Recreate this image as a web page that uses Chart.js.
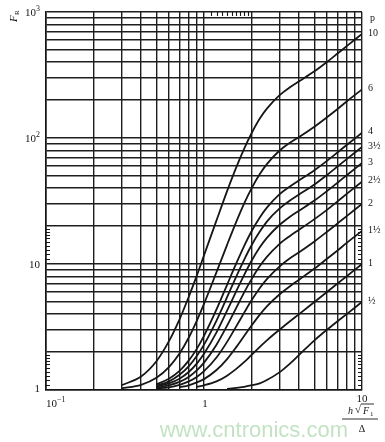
<!DOCTYPE html>
<html><head><meta charset="utf-8">
<script src="https://cdn.jsdelivr.net/npm/chart.js@4.4.0/dist/chart.umd.min.js"></script>
<style>html,body{margin:0;padding:0;background:#fff}canvas{display:block}</style>
</head><body>
<canvas id="c" width="385" height="442"></canvas>
<script>
// x values (h*sqrt(F1)/Delta) shared by all curves
const xs = [0.3,0.4,0.5,0.6,0.7,0.8,0.9,1,1.2,1.4,1.6,1.8,2,2.25,2.5,3,3.5,4,5,6,7,8,10];
// F_R read for each layer count p
const p10   = [1.09,1.28,1.69,2.44,3.64,5.47,8.08,11.7,22.2,37.9,58.5,82.9,109,142,171,218,253,282,338,401,468,536,670];
const p6    = [1.03,1.10,1.25,1.52,1.95,2.60,3.54,4.82,8.61,14.2,21.6,30.4,39.8,51.5,62.1,79.2,91.7,102,123,146,170,195,243];
const p4    = [null,null,1.11,1.23,1.42,1.71,2.12,2.69,4.36,6.84,10.1,14.0,18.2,23.3,28.0,35.7,41.3,46.1,55.5,65.8,76.8,88.0,110];
const p3h   = [null,null,1.08,1.17,1.32,1.54,1.86,2.29,3.56,5.46,7.95,10.9,14.1,18.0,21.7,27.5,31.9,35.6,42.8,50.9,59.4,68.0,85.0];
const p3    = [null,null,1.06,1.13,1.23,1.39,1.62,1.94,2.87,4.26,6.08,8.23,10.6,13.5,16.1,20.4,23.7,26.5,31.9,37.9,44.2,50.6,63.3];
const p2h   = [null,null,1.04,1.09,1.16,1.27,1.43,1.65,2.29,3.24,4.49,5.98,7.58,9.58,11.4,14.4,16.7,18.7,22.7,26.9,31.4,36.0,45.0];
const p2    = [null,null,1.03,1.05,1.10,1.17,1.27,1.41,1.81,2.41,3.20,4.13,5.15,6.42,7.59,9.54,11.1,12.4,15.1,18.0,21.0,24.0,30.0];
const p1h   = [null,null,null,null,1.05,1.09,1.15,1.22,1.44,1.76,2.19,2.70,3.25,3.95,4.61,5.73,6.66,7.51,9.20,11.0,12.8,14.7,18.3];
const p1    = [null,null,null,null,null,null,1.06,1.09,1.17,1.30,1.47,1.67,1.90,2.19,2.48,3.01,3.51,4.00,5.00,6.00,7.00,8.00,10.0];
const pHalf = [null,null,null,null,null,null,null,null,null,1.02,1.04,1.06,1.09,1.13,1.20,1.38,1.62,1.90,2.48,3.01,3.51,4.00,5.00];

const seriesValues = [p10,p6,p4,p3h,p3,p2h,p2,p1h,p1,pHalf];
const seriesLabels = ['10','6','4','3½','3','2½','2','1½','1','½'];

const xTickValues = [0.1,0.2,0.3,0.4,0.5,0.6,0.7,0.8,0.9,1,2,3,4,5,6,7,8,9,10];
const yTickValues = [1,2,3,4,5,6,7,8,9,10,20,30,40,50,60,70,80,90,100,200,300,400,500,600,700,800,900,1000];
// small edge subdivision marks
const yFineTicks = [1.1,1.2,1.3,1.4,1.5,1.6,1.7,1.8,1.9,11,12,13,14,15,16,17,18,19];
const xFineTicksTop = [1.1,1.2,1.3,1.4,1.5,1.6,1.7,1.8,1.9];

const serif = "'Liberation Serif','DejaVu Serif',serif";
const ink = '#161616';

function drawPow(ctx, base, exp, x, yMid, size, align){
  ctx.font = size + 'px ' + serif;
  const wb = ctx.measureText(base).width;
  ctx.font = (size*0.72) + 'px ' + serif;
  const we = ctx.measureText(exp).width;
  const total = wb + we;
  let left = align === 'right' ? x - total : (align === 'center' ? x - total/2 : x);
  ctx.textBaseline = 'middle';
  ctx.textAlign = 'left';
  ctx.font = size + 'px ' + serif;
  ctx.fillText(base, left, yMid);
  ctx.font = (size*0.72) + 'px ' + serif;
  ctx.fillText(exp, left + wb, yMid - size*0.38);
}

const textPlugin = {
  id: 'texts',
  afterDraw(chart){
    const ctx = chart.ctx;
    const xs_ = chart.scales.x, ys_ = chart.scales.y;
    const a = chart.chartArea;
    ctx.save();
    // fine edge marks
    ctx.strokeStyle = ink; ctx.lineWidth = 1.1;
    ctx.beginPath();
    yFineTicks.forEach(v => {
      const py = Math.round(ys_.getPixelForValue(v)) + 0.5;
      ctx.moveTo(a.left, py); ctx.lineTo(a.left + 4, py);
      ctx.moveTo(a.right, py); ctx.lineTo(a.right - 4, py);
    });
    xFineTicksTop.forEach(v => {
      const px = Math.round(xs_.getPixelForValue(v)) + 0.5;
      ctx.moveTo(px, a.top); ctx.lineTo(px, a.top + 4);
    });
    ctx.stroke();

    ctx.fillStyle = ink;
    // y tick labels
    drawPow(ctx, '10', '3', 40, ys_.getPixelForValue(1000)+1, 11, 'right');
    drawPow(ctx, '10', '2', 40, ys_.getPixelForValue(100)+1, 11, 'right');
    ctx.font = '11px ' + serif; ctx.textAlign = 'right'; ctx.textBaseline = 'middle';
    ctx.fillText('10', 40, ys_.getPixelForValue(10)+1);
    ctx.fillText('1', 40, ys_.getPixelForValue(1)-1);
    // x tick labels
    drawPow(ctx, '10', '−1', xs_.getPixelForValue(0.1), 404, 11, 'left');
    ctx.font = '11px ' + serif; ctx.textAlign = 'center'; ctx.textBaseline = 'middle';
    ctx.fillText('1', xs_.getPixelForValue(1)+1, 404);
    ctx.fillText('10', xs_.getPixelForValue(10), 399);
    // x axis title: h√F1 / Δ
    const cx = xs_.getPixelForValue(10);
    ctx.font = 'italic 10px ' + serif; ctx.textAlign = 'left';
    ctx.fillText('h', cx-14, 411);
    ctx.font = '11px ' + serif;
    ctx.fillText('√', cx-7, 410);
    ctx.beginPath(); ctx.moveTo(cx-1, 404); ctx.lineTo(cx+12, 404); ctx.lineWidth = 0.9; ctx.strokeStyle = ink; ctx.stroke();
    ctx.font = 'italic 10px ' + serif;
    ctx.fillText('F', cx+1, 411);
    ctx.font = '7px ' + serif;
    ctx.fillText('1', cx+8, 414);
    ctx.beginPath(); ctx.moveTo(cx-20, 419); ctx.lineTo(cx+16, 419); ctx.lineWidth = 0.9; ctx.stroke();
    ctx.font = '10px ' + serif; ctx.textAlign = 'center';
    ctx.fillText('Δ', cx, 429);
    // y axis title F_R (rotated)
    ctx.save();
    ctx.translate(17, 22);
    ctx.rotate(-Math.PI/2);
    ctx.font = 'italic 11px ' + serif; ctx.textAlign = 'left'; ctx.textBaseline = 'alphabetic';
    ctx.fillText('F', 0, 0);
    ctx.font = '7px ' + serif;
    ctx.fillText('R', 7, 2);
    ctx.restore();
    // curve labels on the right
    const lx = xs_.right + 6;
    ctx.font = '10px ' + serif; ctx.textAlign = 'left'; ctx.textBaseline = 'middle';
    ctx.fillText('p', lx+2, 18);
    seriesValues.forEach((vals, i) => {
      const yv = vals[vals.length-1];
      const py = ys_.getPixelForValue(yv) - 1;
      ctx.font = '10px ' + serif;
      ctx.fillText(seriesLabels[i], lx, py);
    });
    // watermark
    ctx.font = "22px 'Liberation Sans','DejaVu Sans',sans-serif";
    ctx.fillStyle = 'rgba(120,190,120,0.45)';
    ctx.textAlign = 'right'; ctx.textBaseline = 'alphabetic';
    ctx.fillText('www.cntronics.com', 348, 437);
    ctx.restore();
  }
};

const datasets = seriesValues.map((vals, i) => ({
  label: 'p = ' + seriesLabels[i],
  data: xs.map((xv, j) => ({x: xv, y: vals[j]})),
  borderColor: ink,
  borderWidth: 1.8,
  pointRadius: 0,
  fill: false,
  showLine: true,
  spanGaps: false,
  cubicInterpolationMode: 'monotone'
}));

const gridOpts = {color: '#1e1e1e', lineWidth: 1.4, drawTicks: false};

new Chart(document.getElementById('c'), {
  type: 'scatter',
  data: {datasets},
  options: {
    responsive: false,
    animation: false,
    devicePixelRatio: 1,
    layout: {padding: {left: 46, right: 23, top: 12, bottom: 52}},
    plugins: {legend: {display: false}, tooltip: {enabled: false}},
    scales: {
      x: {
        type: 'logarithmic', min: 0.1, max: 10,
        afterBuildTicks: s => { s.ticks = xTickValues.map(v => ({value: v})); },
        ticks: {display: false},
        grid: gridOpts,
        border: {display: true, color: '#161616', width: 1.6}
      },
      y: {
        type: 'logarithmic', min: 1, max: 1000,
        afterBuildTicks: s => { s.ticks = yTickValues.map(v => ({value: v})); },
        ticks: {display: false},
        grid: gridOpts,
        border: {display: true, color: '#161616', width: 1.6}
      }
    }
  },
  plugins: [textPlugin]
});
</script>
</body></html>
